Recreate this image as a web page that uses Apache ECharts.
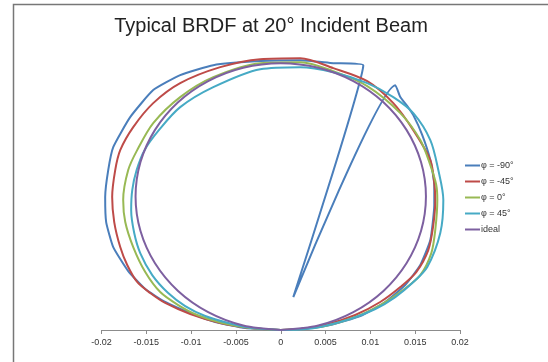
<!DOCTYPE html>
<html>
<head>
<meta charset="utf-8">
<script src="https://cdn.jsdelivr.net/npm/echarts@6/dist/echarts.min.js"></script>
<style>
  html, body { margin: 0; padding: 0; background: #fff; }
  #chart { width: 548px; height: 362px; }
</style>
</head>
<body>
<div id="chart"></div>
<script>
// x tick labels
const xTicks = [-0.02, -0.015, -0.01, -0.005, 0, 0.005, 0.01, 0.015, 0.02];

// series names
const names = ['\u03c6 = -90\u00b0', '\u03c6 = -45\u00b0', '\u03c6 = 0\u00b0', '\u03c6 = 45\u00b0', 'ideal'];

// [x, y] points
const phiM90 = [
  [0, 0], [-0.00396, 0.00024], [-0.00731, 0.00097], [-0.0101, 0.00206], [-0.01289, 0.0034],
  [-0.01512, 0.00498], [-0.01702, 0.00716], [-0.01869, 0.01007], [-0.01948, 0.01311], [-0.01959, 0.01614],
  [-0.01925, 0.01942], [-0.01869, 0.02221], [-0.0168, 0.02585], [-0.01423, 0.02913], [-0.01122, 0.03095],
  [-0.00753, 0.03216], [-0.00229, 0.03265], [0.00218, 0.03277], [0.00586, 0.0324], [0.00921, 0.03216],
  [0.0014, 0.004], [0.01278, 0.02973], [0.01334, 0.02828], [0.01412, 0.02718], [0.01479, 0.02609],
  [0.01579, 0.02367], [0.01669, 0.02063], [0.01713, 0.0176], [0.01713, 0.01517], [0.01669, 0.01092],
  [0.01557, 0.00789], [0.01389, 0.00546], [0.01166, 0.0034], [0.00887, 0.0017], [0.00552, 0.00061],
  [0.00218, 0.00012], [0, 0]
];
const phiM45 = [
  [0, 0], [-0.0034, 0.00024], [-0.00675, 0.00085], [-0.0101, 0.00194], [-0.01289, 0.00328],
  [-0.01456, 0.00449], [-0.01602, 0.00583], [-0.01713, 0.00789], [-0.01791, 0.01007], [-0.01858, 0.01311],
  [-0.01881, 0.01614], [-0.01847, 0.01942], [-0.01791, 0.02184], [-0.01646, 0.02464], [-0.01423, 0.02755],
  [-0.01122, 0.02998], [-0.00675, 0.03192], [-0.00229, 0.03289], [0.00218, 0.03301], [0.00586, 0.0318],
  [0.00965, 0.03022], [0.01256, 0.02755], [0.01479, 0.02427], [0.01669, 0.02063], [0.01713, 0.01784],
  [0.01724, 0.01578], [0.01702, 0.01274], [0.01646, 0.00971], [0.01512, 0.00704], [0.01334, 0.00522],
  [0.0111, 0.0034], [0.00831, 0.00182], [0.00497, 0.00061], [0.00218, 0.00012], [0, 0]
];
const phi0 = [
  [0, 0], [-0.0034, 0.00024], [-0.00653, 0.00085], [-0.00932, 0.00182], [-0.01144, 0.00303],
  [-0.01345, 0.00461], [-0.01512, 0.00704], [-0.01646, 0.01007], [-0.01735, 0.01311], [-0.01758, 0.01578],
  [-0.01702, 0.01942], [-0.01602, 0.02184], [-0.01423, 0.02512], [-0.01122, 0.02828], [-0.00753, 0.0307],
  [-0.00229, 0.0324], [0.00218, 0.03252], [0.00586, 0.03143], [0.00965, 0.02961], [0.01334, 0.02633],
  [0.01557, 0.02306], [0.01669, 0.02002], [0.01735, 0.0176], [0.01747, 0.01578], [0.01724, 0.01214],
  [0.0168, 0.00934], [0.01557, 0.00667], [0.01334, 0.00461], [0.0111, 0.00303], [0.00831, 0.00158],
  [0.00497, 0.00049], [0.00218, 0.00012], [0, 0]
];
const phi45 = [
  [0, 0], [-0.00318, 0.00024], [-0.00586, 0.00085], [-0.00843, 0.0017], [-0.01066, 0.00291],
  [-0.01256, 0.00449], [-0.01434, 0.00667], [-0.01568, 0.00934], [-0.01635, 0.01177], [-0.01669, 0.01456],
  [-0.01657, 0.01699], [-0.01608, 0.01942], [-0.01520, 0.02184], [-0.01360, 0.02427], [-0.01122, 0.02706],
  [-0.00753, 0.02949], [-0.00229, 0.03167], [0.00218, 0.03192], [0.00586, 0.03131], [0.00965, 0.02998],
  [0.01256, 0.02828], [0.01479, 0.02633], [0.01669, 0.02306], [0.01758, 0.01942], [0.01814, 0.01578],
  [0.0178, 0.01177], [0.01635, 0.00765], [0.01468, 0.0057], [0.01278, 0.004], [0.01055, 0.00255],
  [0.00776, 0.00133], [0.00441, 0.00036], [0.00218, 0.00006], [0, 0]
];
const ideal = [
  [0, 0], [-0.00419, 0.00055], [-0.0081, 0.00217], [-0.01146, 0.00474], [-0.01403, 0.0081],
  [-0.01565, 0.01201], [-0.0162, 0.0162], [-0.01565, 0.02039], [-0.01403, 0.0243], [-0.01146, 0.02766],
  [-0.0081, 0.03023], [-0.00419, 0.03185], [0, 0.0324], [0.00419, 0.03185], [0.0081, 0.03023],
  [0.01146, 0.02766], [0.01403, 0.0243], [0.01565, 0.02039], [0.0162, 0.0162], [0.01565, 0.01201],
  [0.01403, 0.0081], [0.01146, 0.00474], [0.0081, 0.00217], [0.00419, 0.00055], [0, 0]
];

const seriesData = [phiM90, phiM45, phi0, phi45, ideal];
const colors = ['#4A7EBB', '#BE4B48', '#98B954', '#46AAC5', '#7D60A0'];

const chart = echarts.init(document.getElementById('chart'));

const option = {
  animation: false,
  textStyle: { fontFamily: 'Liberation Sans' },
  title: {
    text: 'Typical BRDF at 20\u00b0 Incident Beam',
    left: 266,
    textAlign: 'center',
    top: 11,
    textStyle: { fontSize: 20, fontWeight: 'normal', color: '#222', fontFamily: 'Liberation Sans' }
  },
  graphic: [{
    type: 'rect',
    shape: { x: 13.5, y: 4.5, width: 600, height: 400 },
    style: { fill: 'none', stroke: '#777', lineWidth: 1.5 },
    silent: true
  }],
  legend: {
    orient: 'vertical',
    left: 460,
    top: 155,
    itemWidth: 15,
    itemHeight: 2,
    itemGap: 5,
    icon: 'rect',
    textStyle: { fontSize: 9, color: '#333', padding: [0, 0, 0, -4], lineHeight: 11 },
    data: names
  },
  grid: {
    left: 101.5,
    right: 88,
    top: 50,
    bottom: 32
  },
  xAxis: {
    type: 'value',
    min: xTicks[0],
    max: xTicks[xTicks.length - 1],
    interval: 0.005,
    splitLine: { show: false },
    axisLine: { lineStyle: { color: '#8c8c8c', width: 1 } },
    axisTick: { show: true, length: 4, lineStyle: { color: '#8c8c8c' } },
    axisLabel: {
      fontSize: 9,
      color: '#333',
      margin: 8,
      formatter: function (v) {
        return String(parseFloat(v.toFixed(3)));
      }
    }
  },
  yAxis: {
    type: 'value',
    show: false,
    min: 0,
    max: 0.034
  },
  series: seriesData.map(function (d, i) {
    return {
      name: names[i],
      type: 'line',
      data: d,
      showSymbol: false,
      symbol: 'none',
      smooth: i === 0 ? 0.15 : 0.3,
      lineStyle: { color: colors[i], width: 2 },
      itemStyle: { color: colors[i] }
    };
  })
};

chart.setOption(option);
</script>
</body>
</html>
